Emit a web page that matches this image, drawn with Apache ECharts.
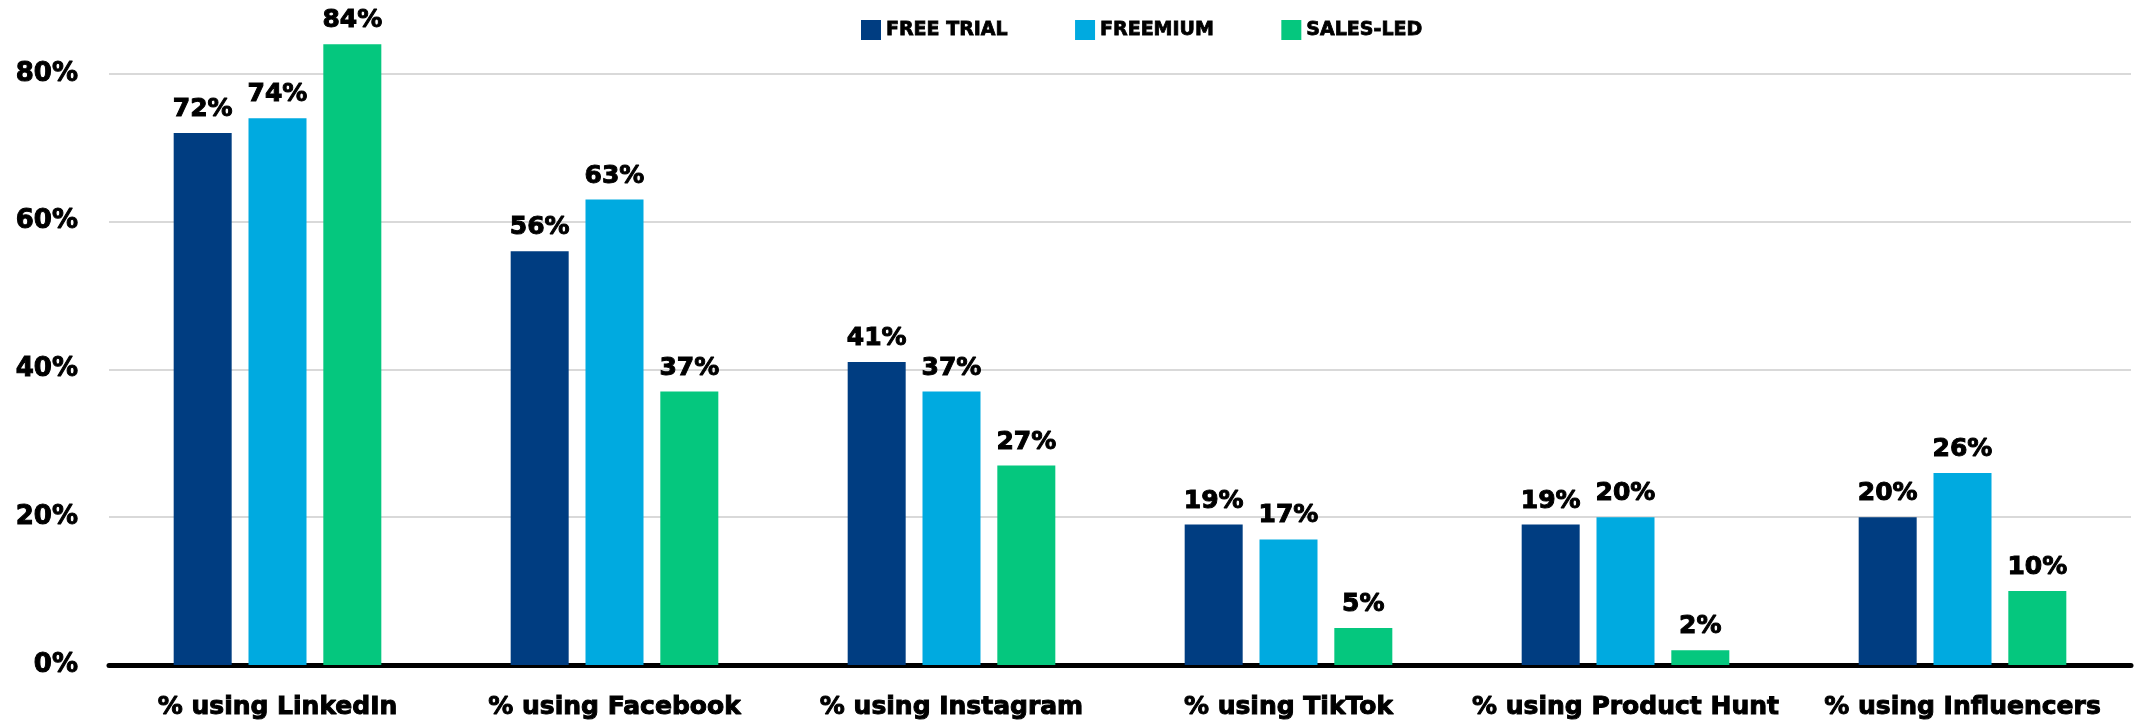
<!DOCTYPE html>
<html>
<head>
<meta charset="utf-8">
<script src="https://cdn.jsdelivr.net/npm/echarts@6/dist/echarts.min.js"></script>
<style>
html,body{margin:0;padding:0;background:#fff;}
#chart{width:2138px;height:722px;}
</style>
</head>
<body>
<div id="chart"></div>
<script>
const categories = ['% using LinkedIn', '% using Facebook', '% using Instagram', '% using TikTok', '% using Product Hunt', '% using Influencers'];
const freeTrial = [72, 56, 41, 19, 19, 20];
const freemium = [74, 63, 37, 17, 20, 26];
const salesLed = [84, 37, 27, 5, 2, 10];
const seriesNames = ['FREE TRIAL', 'FREEMIUM', 'SALES-LED'];
const colors = ['#003D81', '#00AAE0', '#05C77E'];

const FONT = '"DejaVu Sans", sans-serif';
const chart = echarts.init(document.getElementById('chart'), null, {renderer: 'canvas'});

const heavy = {textBorderColor: '#000', textBorderWidth: 1};

const labelStyle = Object.assign({
  show: true,
  position: 'top',
  distance: 11,
  formatter: '{c}%',
  fontFamily: FONT,
  fontWeight: 'bold',
  fontSize: 25,
  color: '#000'
}, heavy);

const data = [freeTrial, freemium, salesLed];

chart.setOption({
  animation: false,
  backgroundColor: '#fff',
  color: colors,
  legend: {
    top: 15,
    left: 856,
    itemWidth: 20,
    itemHeight: 20,
    itemGap: 67,
    icon: 'rect',
    textStyle: Object.assign({fontFamily: FONT, fontWeight: 'bold', fontSize: 19, color: '#000'}, {textBorderColor: '#000', textBorderWidth: 0.8}),
    data: seriesNames
  },
  grid: {left: 109, right: 7, top: 0, bottom: 57, containLabel: false},
  xAxis: {
    type: 'category',
    data: categories,
    axisLine: {show: true, lineStyle: {color: '#000', width: 5}},
    axisTick: {show: false},
    axisLabel: Object.assign({
      interval: 0,
      margin: 30,
      fontFamily: FONT,
      fontWeight: 'bold',
      fontSize: 25,
      color: '#000'
    }, heavy)
  },
  yAxis: {
    type: 'value',
    min: 0,
    max: 90,
    interval: 20,
    axisLine: {show: false},
    axisTick: {show: false},
    axisLabel: Object.assign({
      margin: 31,
      formatter: function (v) { return v > 80 ? '' : v + '%'; },
      showMaxLabel: false,
      fontFamily: FONT,
      fontWeight: 'bold',
      fontSize: 26,
      color: '#000'
    }, heavy),
    splitLine: {show: true, showMaxLine: false, lineStyle: {color: '#D9D9D9', width: 2}}
  },
  series: seriesNames.map((name, i) => ({
    name: name,
    type: 'bar',
    data: data[i],
    barWidth: 58,
    barGap: '29%',
    barCategoryGap: '38%',
    itemStyle: {color: colors[i]},
    label: labelStyle
  }))
});
</script>
</body>
</html>
